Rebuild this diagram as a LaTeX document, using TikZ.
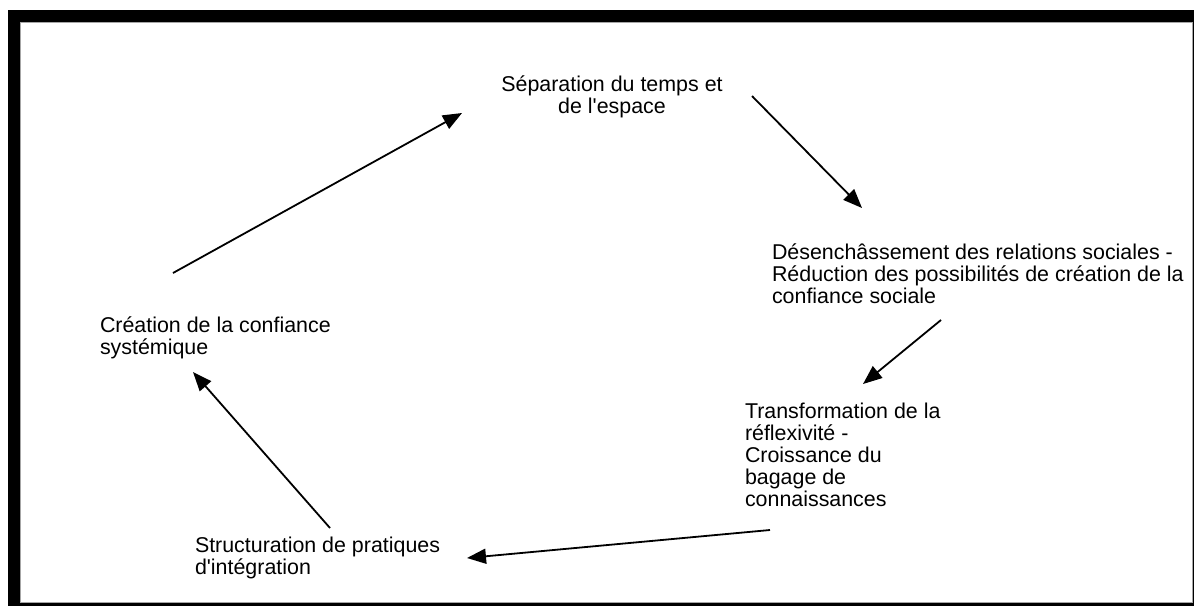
\documentclass[tikz,border=0pt]{standalone}
\usepackage{fontspec}
\newfontfamily\labelfont{Liberation Sans}
\usetikzlibrary{arrows.meta}
\begin{document}
\begin{tikzpicture}[x=1pt,y=-1pt,
  label/.style={inner sep=0pt,outer sep=0pt,align=left,font=\labelfont\fontsize{21.4}{22}\selectfont},
  flow/.style={line width=1.8pt,-{Triangle[length=19pt,width=15pt]}}]
\useasboundingbox (0,0) rectangle (1194,606);
% framed panel with a heavy top-left edge
\fill[black] (8,10) rectangle (1194,606);
\fill[white,draw=gray!70,line width=0.6pt] (20.5,22.5) rectangle (1192.5,602.5);

\node[label,align=center,anchor=north] (sep) at (612,76) {Séparation du temps et\\de l'espace};
\node[label,anchor=north west] (des) at (772,244) {Désenchâssement des relations sociales -\\Réduction des possibilités de création de la\\confiance sociale};
\node[label,anchor=north west] (tra) at (745,403) {Transformation de la\\réflexivité -\\Croissance du\\bagage de\\connaissances};
\node[label,anchor=north west] (str) at (195,537) {Structuration de pratiques\\d'intégration};
\node[label,anchor=north west] (cre) at (100,317) {Création de la confiance\\systémique};

\coordinate (a1s) at (173,273); \coordinate (a1e) at (462,113);
\coordinate (a2s) at (752,96);  \coordinate (a2e) at (862,208);
\coordinate (a3s) at (941,320); \coordinate (a3e) at (863,384);
\coordinate (a4s) at (770,530); \coordinate (a4e) at (467,558);
\coordinate (a5s) at (330,528); \coordinate (a5e) at (193,372);

\draw[flow] (a1s) -- (a1e);
\draw[flow] (a2s) -- (a2e);
\draw[flow] (a3s) -- (a3e);
\draw[flow] (a4s) -- (a4e);
\draw[flow] (a5s) -- (a5e);
\end{tikzpicture}
\end{document}
